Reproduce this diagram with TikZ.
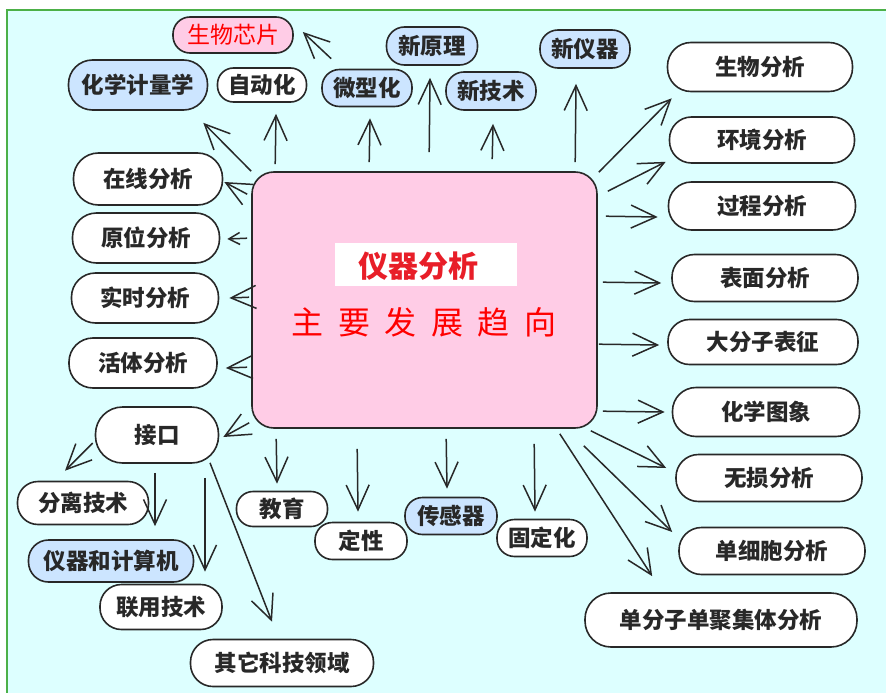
\documentclass[tikz,border=0pt]{standalone}
\usepackage{fontspec}
\setmainfont{Noto Sans CJK SC}
\usetikzlibrary{arrows.meta}
\definecolor{bg}{RGB}{221,255,255}
\definecolor{framegreen}{RGB}{76,176,72}
\definecolor{pinkbox}{RGB}{255,204,230}
\definecolor{bluebox}{RGB}{204,229,255}
\definecolor{ink}{RGB}{40,40,40}
\definecolor{redtxt}{RGB}{232,30,40}
\begin{document}
\begin{tikzpicture}[x=1pt,y=-1pt,
  pill/.style n args={2}{draw=ink, line width=1.6pt, fill=white,
    minimum width=#1, minimum height=#2, rounded corners=#2/2-1,
    inner sep=0pt, font=\fontsize{22.5}{25}\selectfont\bfseries, text=ink},
  bluefill/.style={fill=bluebox},
  arr/.style={draw=ink, line width=1.5pt,
    -{Straight Barb[length=25pt,width=23pt,line width=1.5pt]}},
  smallarr/.style={draw=ink, line width=1.5pt,
    -{Straight Barb[length=11pt,width=12pt,line width=1.5pt]}},
]
\useasboundingbox (0,0) rectangle (886,693);
\fill[white] (0,0) rectangle (886,693);
\fill[bg] (7,10) rectangle (886,693);
\draw[framegreen, line width=2.2pt] (7,693) -- (7,10) -- (886,10);

% central box
\node[draw=ink, line width=1.6pt, fill=pinkbox, minimum width=345, minimum height=256,
      rounded corners=22, inner sep=0pt] (main) at (424.5,300) {};
\node[fill=white, minimum width=182, minimum height=43, inner sep=0pt] (titlebg) at (426,264) {};
\node[text=redtxt, font=\fontsize{30}{32}\selectfont\bfseries, inner sep=0pt] (title) at (418,266) {仪器分析};
\node[text=red, font=\fontsize{32}{34}\selectfont, inner sep=0pt] (sub) at (424,322)
  {主\hspace{14.5pt}要\hspace{14.5pt}发\hspace{14.5pt}展\hspace{14.5pt}趋\hspace{14.5pt}向};

% top nodes
\node[pill={120}{36}, fill=pinkbox, text=red, font=\fontsize{23}{26}\selectfont\mdseries] (swxp) at (233,35) {生物芯片};
\node[pill={139}{50}, bluefill] (hxjl) at (138,85) {化学计量学};
\node[pill={89}{34}] (zdh) at (262,85) {自动化};
\node[pill={90}{37}, bluefill] (wxh) at (367,88) {微型化};
\node[pill={91}{38}, bluefill] (xyl) at (432,46) {新原理};
\node[pill={90}{38}, bluefill] (xjs) at (491,91) {新技术};
\node[pill={90}{38}, bluefill] (xyq) at (585,49) {新仪器};

% right nodes
\node[pill={185}{49}] (swfx) at (760,67) {生物分析};
\node[pill={185}{46}] (hjfx) at (762,140) {环境分析};
\node[pill={187}{48}] (gcfx) at (762,206) {过程分析};
\node[pill={186}{47}] (bmfx) at (765,278) {表面分析};
\node[pill={190}{45}] (dfz) at (763,342) {大分子表征};
\node[pill={187}{49}] (hxtx) at (766,412) {化学图象};
\node[pill={186}{47}] (wsfx) at (769,478) {无损分析};
\node[pill={186}{47}] (dxb) at (772,551) {单细胞分析};
\node[pill={272}{54}] (dfzd) at (721,620) {单分子单聚集体分析};

% left nodes
\node[pill={149}{52}] (zxfx) at (148,179) {在线分析};
\node[pill={147}{50}] (ywfx) at (146,238) {原位分析};
\node[pill={147}{50}] (ssfx) at (145,298) {实时分析};
\node[pill={148}{50}] (htfx) at (143,363) {活体分析};
\node[pill={123}{56}] (jk) at (157,435) {接口};

% bottom nodes
\node[pill={131}{43}] (fljs) at (83,503) {分离技术};
\node[pill={165}{42}, bluefill] (yqj) at (111,561) {仪器和计算机};
\node[pill={122}{45}] (lyjs) at (161,607) {联用技术};
\node[pill={183}{47}] (qt) at (282,663) {其它科技领域};
\node[pill={91}{35}] (jy) at (282,509) {教育};
\node[pill={92}{37}] (dx) at (361,541) {定性};
\node[pill={92}{37}, bluefill] (cgq) at (451,516) {传感器};
\node[pill={90}{37}] (gdh) at (542,538) {固定化};

% top arrows
\draw[arr] (main.north west) -- ([shift={(-5,12)}]hxjl.south east);
\draw[arr] ([shift={(24,-7)}]main.north west) -- ([shift={(14,11)}]zdh.south);
\draw[arr] ([shift={(118,-9)}]main.north west) -- ([shift={(3,11)}]wxh.south);
\draw[arr] ([shift={(10,-10)}]wxh.north west) -- ([shift={(9,-3)}]swxp.east);
\draw[arr] ([shift={(178,-19)}]main.north west) -- ([shift={(-2,12)}]xyl.south);
\draw[arr] ([shift={(241,-12)}]main.north west) -- ([shift={(2,13)}]xjs.south);
\draw[arr] ([shift={(324,-9)}]main.north west) -- ([shift={(-9,15)}]xyq.south);

% right arrows
\draw[arr] ([shift={(1,1)}]main.north east) -- ([shift={(5,6)}]swfx.south west);
\draw[arr] ([shift={(10,20)}]main.north east) -- ([shift={(-3,-2)}]hjfx.south west);
\draw[arr] ([shift={(8,45)}]main.north east) -- ([shift={(-10,11)}]gcfx.west);
\draw[arr] ([shift={(5,111)}]main.north east) -- ([shift={(-10,5)}]bmfx.west);
\draw[arr] ([shift={(1,173)}]main.north east) -- ([shift={(-8,3)}]dfz.west);
\draw[arr] ([shift={(5,240)}]main.north east) -- ([shift={(-7,0)}]hxtx.west);
\draw[arr] ([shift={(-7,2)}]main.south east) -- ([shift={(-9,-10)}]wsfx.west);
\draw[arr] ([shift={(-14,17)}]main.south east) -- ([shift={(-6,-19)}]dxb.west);
\draw[arr] ([shift={(-38,5)}]main.south east) -- ([shift={(68,-16)}]dfzd.north west);

% bottom arrows
\draw[arr] ([shift={(283,15)}]main.south west) -- ([shift={(-7,-7)}]gdh.north);
\draw[arr] ([shift={(195,10)}]main.south west) -- ([shift={(-4,-8)}]cgq.north);
\draw[arr] ([shift={(106,20)}]main.south west) -- ([shift={(-3,-10)}]dx.north);
\draw[arr] ([shift={(25,10)}]main.south west) -- ([shift={(-5,-7)}]jy.north);
\draw[arr] ([shift={(-2,-6)}]main.south west) -- ([shift={(4,2)}]jk.east);

% from interface
\draw[arr] ([shift={(-2,8)}]jk.west) -- ([shift={(-18,-10)}]fljs.north);
\draw[arr] ([shift={(-2,9)}]jk.south) -- ([shift={(44,-13)}]yqj.north);
\draw[arr] ([shift={(48,14)}]jk.south) -- ([shift={(44,-12)}]lyjs.north);
\draw[arr] ([shift={(53,-1)}]jk.south) -- ([shift={(-10,-17)}]qt.north);

% left arrows
\draw[arr] ([shift={(-4,23)}]main.north west) -- ([shift={(1,3)}]zxfx.east);
\draw[smallarr] ([shift={(-4,67)}]main.north west) -- ([shift={(7,1)}]ywfx.east);
\draw[arr] ([shift={(-2,126)}]main.north west) -- ([shift={(10,0)}]ssfx.east);
\draw[arr] ([shift={(-4,196)}]main.north west) -- ([shift={(8,5)}]htfx.east);
\end{tikzpicture}
\end{document}
